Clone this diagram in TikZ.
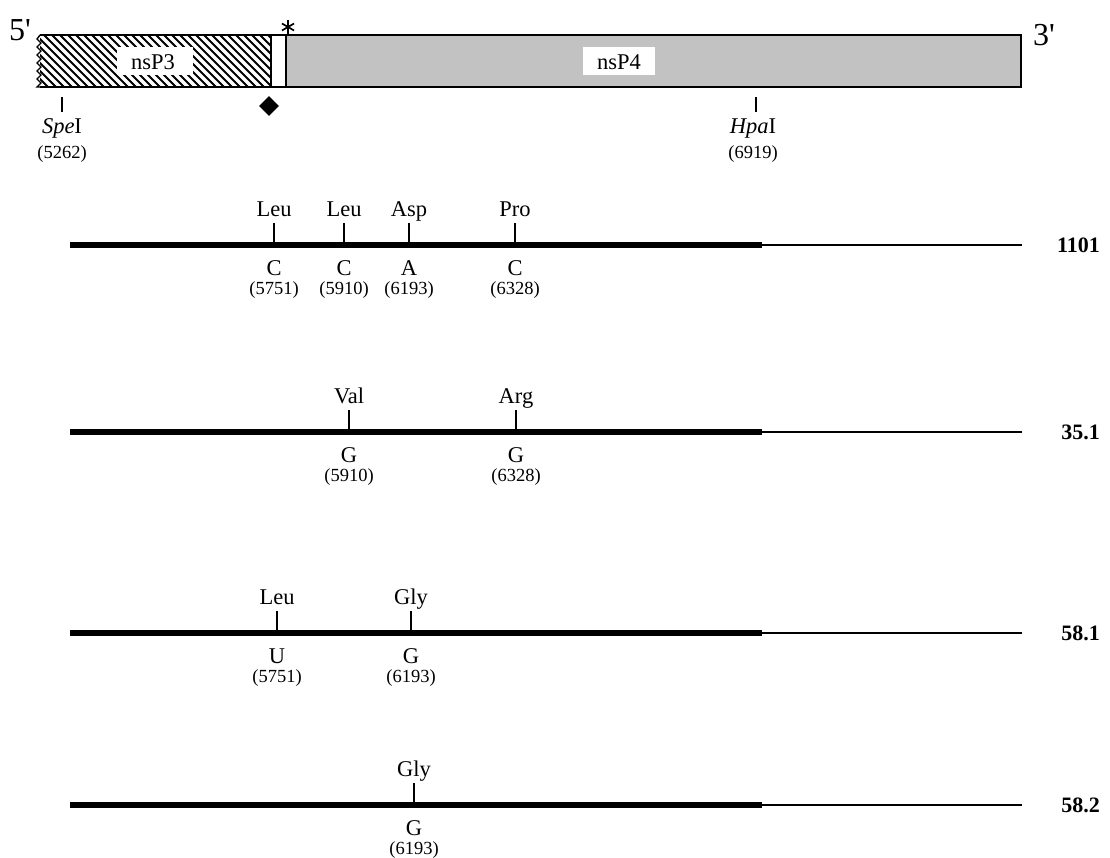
\documentclass[tikz,border=0pt]{standalone}
\usepackage{fontspec}
\setmainfont{Liberation Serif}
\usetikzlibrary{shapes.geometric}
\begin{document}
\begin{tikzpicture}[x=1pt,y=-1pt,
  lbl/.style={font=\fontsize{22.5}{24}\selectfont, inner sep=0, anchor=base},
  num/.style={font=\fontsize{18.5}{20}\selectfont, inner sep=0, anchor=base},
  endlbl/.style={font=\fontsize{32}{34}\selectfont, inner sep=0, anchor=base west},
  tag/.style={font=\bfseries\fontsize{22}{24}\selectfont, inner sep=0, anchor=east},
  genome/.style={line width=6.5pt},
  tail/.style={line width=1.6pt},
  tickmark/.style={line width=1.5pt},
  boxline/.style={line width=1.8pt},
  hatch/.style={line width=1.8pt},
  stip/.style={fill=black!24}]
\useasboundingbox (0,0) rectangle (1110,857);

% ---- top map ----
\fill[stip] (286,35) rectangle (1021,87);
\begin{scope}
  \clip (40,35) rectangle (271,87);
  \foreach \x in {-60,-52,...,280} \draw[hatch] (\x,35) -- (\x+52,87);
\end{scope}
\fill[white] (271,35) rectangle (286,87);
\draw[boxline] (40,35) -- (1021,35) -- (1021,87) -- (40,87);
\draw[boxline] (271,35) -- (271,87);
\draw[boxline] (286,35) -- (286,87);
% wavy left edge
\draw[line width=1.4pt] (40,35) \foreach \k in {1,...,13} { -- ({ifthenelse(mod(\k,2)==1,37,41)},{35+4*\k}) } -- (40,87);

\node[fill=white, minimum width=76pt, minimum height=28pt, inner sep=0] (nsp3) at (155,61) {};
\node[lbl] at (153,69) {nsP3};
\node[fill=white, minimum width=72pt, minimum height=28pt, inner sep=0] (nsp4) at (619,61) {};
\node[lbl] at (619,69) {nsP4};

\node[endlbl] (five) at (9,40) {5\textquotesingle};
\node[endlbl] (three) at (1033,45) {3\textquotesingle};

% asterisk
\coordinate (ast) at (288,27);
\foreach \a in {90,30,150} \draw[line width=1.7pt] (ast) ++(\a:-7) -- ++(\a:14);
% diamond
\node[diamond, fill=black, minimum width=20pt, minimum height=20pt, inner sep=0] (dia) at (269,106) {};

% restriction sites
\coordinate (spe) at (62,97);
\draw[tickmark] (spe) -- ++(0,15);
\node[lbl] (spelbl) at (62,133) {\textit{Spe}I};
\node[num] (spenum) at (62,158) {(5262)};
\coordinate (hpa) at (756,97);
\draw[tickmark] (hpa) -- ++(0,15);
\node[lbl] (hpalbl) at (753,133) {\textit{Hpa}I};
\node[num] (hpanum) at (753,158) {(6919)};

% ---- clones ----
\foreach \row/\Y/\name in {a/245/1101, b/432/35.1, c/633/58.1, d/805/58.2} {
  \coordinate (\row s) at (70,\Y);
  \coordinate (\row m) at (762,\Y);
  \coordinate (\row e) at (1022,\Y);
  \draw[genome] (\row s) -- (\row m);
  \draw[tail] (\row m) -- (\row e);
  \node[tag] (\row tag) at (1100,\Y) {\name};
}

\foreach \Y/\x/\aa/\nt/\pos in {
  245/274/Leu/C/5751, 245/344/Leu/C/5910, 245/409/Asp/A/6193, 245/515/Pro/C/6328,
  432/349/Val/G/5910, 432/516/Arg/G/6328,
  633/277/Leu/U/5751, 633/411/Gly/G/6193,
  805/414/Gly/G/6193} {
  \draw[tickmark] (\x,\Y-22) -- (\x,\Y);
  \node[lbl] at (\x,\Y-29) {\aa};
  \node[lbl] at (\x,\Y+30) {\nt};
  \node[num] at (\x,\Y+49) {(\pos)};
}
\end{tikzpicture}
\end{document}
